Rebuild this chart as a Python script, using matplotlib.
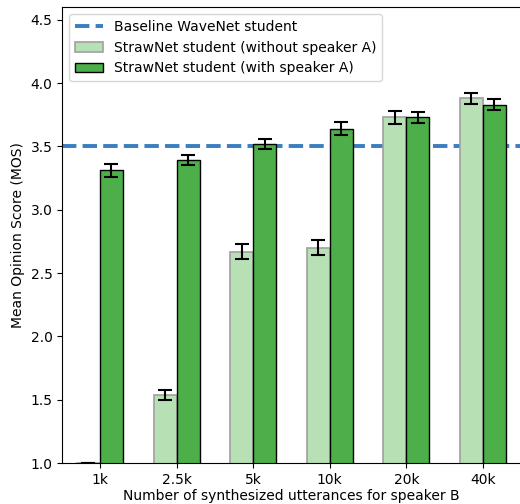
import numpy as np
import matplotlib
matplotlib.use('Agg')
import matplotlib.pyplot as plt

# data
labels = ['1k', '2.5k', '5k', '10k', '20k', '40k']
mos_without_a = [1.00, 1.54, 2.67, 2.70, 3.73, 3.88]
err_without_a = [0.00, 0.04, 0.06, 0.06, 0.05, 0.045]
mos_with_a = [3.31, 3.39, 3.52, 3.64, 3.73, 3.83]
err_with_a = [0.05, 0.04, 0.04, 0.05, 0.045, 0.045]
baseline = 3.5

x = np.arange(len(labels))
w = 0.3

fig = plt.figure(figsize=(5.2, 5.04), dpi=100)
ax = fig.add_axes([0.120, 0.081, 0.881, 0.905])

ax.axhline(baseline, color='#3a7dc0', lw=2.8, ls='--', dashes=(3.7, 1.6),
           label='Baseline WaveNet student', zorder=1)
ax.bar(x - w, mos_without_a, w, align='edge', color='#b8e0b5',
       edgecolor='#a0a0a0', linewidth=1.2,
       label='StrawNet student (without speaker A)', zorder=2)
ax.bar(x, mos_with_a, w, align='edge', color='#4daf4a',
       edgecolor='black', linewidth=1.0,
       label='StrawNet student (with speaker A)', zorder=2)
ax.errorbar(x - w / 2, mos_without_a, yerr=err_without_a, fmt='none',
            ecolor='black', elinewidth=1.5, capsize=5, capthick=1.5, zorder=3)
ax.errorbar(x + w / 2, mos_with_a, yerr=err_with_a, fmt='none',
            ecolor='black', elinewidth=1.5, capsize=5, capthick=1.5, zorder=3)

ax.set_xticks(x)
ax.set_xticklabels(labels)
ax.set_xlim(-0.49, 5.49)
ax.set_ylim(1.0, 4.6)
ax.set_yticks([1.0, 1.5, 2.0, 2.5, 3.0, 3.5, 4.0, 4.5])
ax.tick_params(labelsize=10)
ax.set_xlabel('Number of synthesized utterances for speaker B', fontsize=10,
              labelpad=1.5)
ax.set_ylabel('Mean Opinion Score (MOS)', fontsize=10)
ax.legend(loc='upper left', fontsize=10)

fig.savefig('out.png', dpi=100)
